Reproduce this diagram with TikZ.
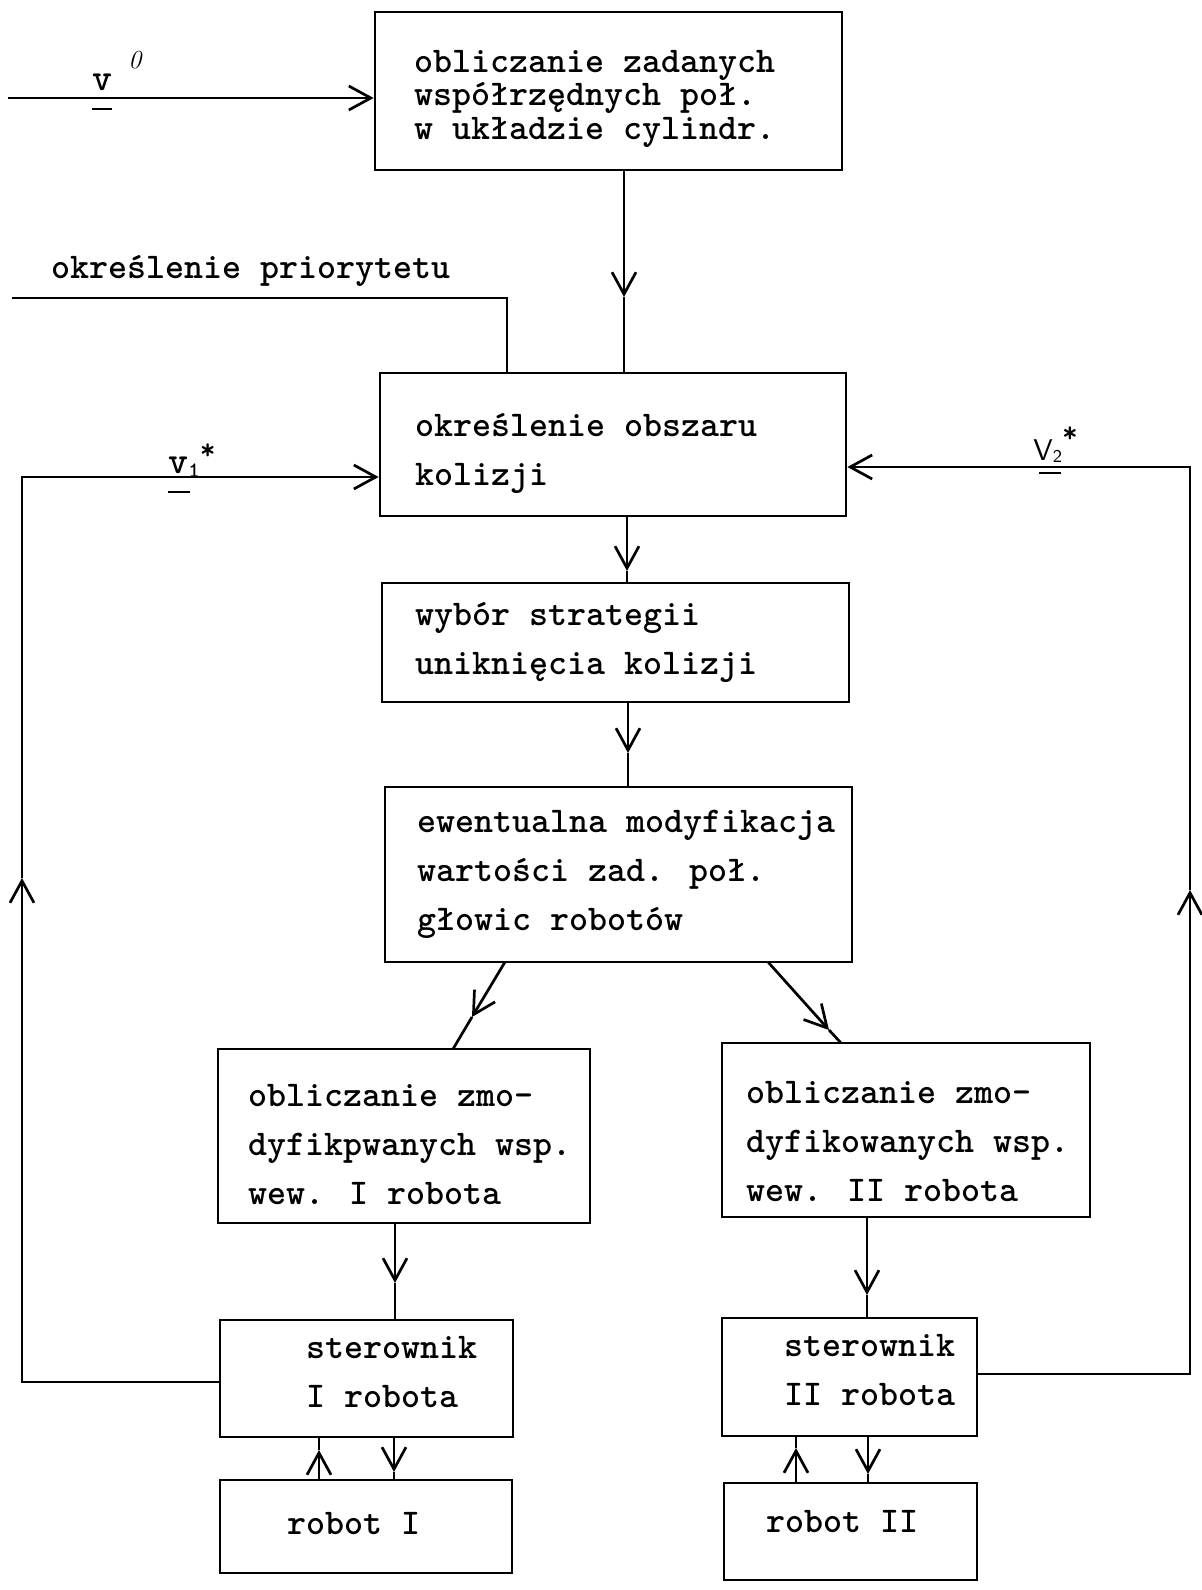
\documentclass[tikz,border=0pt]{standalone}
\usepackage{fontspec}
\usetikzlibrary{arrows.meta,fit}
\newcommand{\tw}{\ttfamily\bfseries}
\tikzset{
  ln/.style={line width=1.35pt},
  box/.style={draw, ln, inner sep=0pt},
  txt/.style={font=\tw\fontsize{18.1}{24.5}\selectfont, anchor=base west, inner sep=0pt},
  arr/.style={ln, -{Straight Barb[length=11pt,width=12pt]}},
  lab/.style={inner sep=0pt, anchor=base west},
}
\newcommand{\tl}[1]{\vtop{\lineskiplimit=-\maxdimen\lineskip=0pt\let\\=\cr\halign{##\hfil\cr#1\crcr}}}
\begin{document}
\begin{tikzpicture}[x=0.5pt,y=-0.5pt]
\useasboundingbox (0,0) rectangle (1201,1590);
% boxes
\node[box, fit={(375,12)(842,170)}] (b1) {};
\node[box, fit={(380,373)(846,516)}] (b2) {};
\node[box, fit={(382,583)(849,702)}] (b3) {};
\node[box, fit={(385,787)(852,962)}] (b4) {};
\node[box, fit={(218,1049)(590,1223)}] (b5) {};
\node[box, fit={(722,1043)(1090,1217)}] (b6) {};
\node[box, fit={(220,1320)(513,1437)}] (b7) {};
\node[box, fit={(220,1480)(512,1573)}] (b8) {};
\node[box, fit={(722,1318)(977,1436)}] (b9) {};
\node[box, fit={(724,1483)(977,1580)}] (b10) {};
% texts
\node[txt] (x1) at (414,72) {\fontsize{18.1}{16.9}\selectfont\tl{obliczanie zadanych\\współrzędnych poł.\\w układzie cylindr.}};
\node[txt] (x2) at (415,436) {\tl{określenie obszaru\\kolizji}};
\node[txt] (x3) at (415,625) {\tl{wybór strategii\\uniknięcia kolizji}};
\node[txt] (x4) at (417,832) {\tl{ewentualna modyfikacja\\wartości zad. poł.\\głowic robotów}};
\node[txt] (x5) at (248,1106) {\tl{obliczanie zmo-\\dyfikpwanych wsp.\\wew. I robota}};
\node[txt] (x6) at (746,1103) {\tl{obliczanie zmo-\\dyfikowanych wsp.\\wew. II robota}};
\node[txt] (x7) at (306,1358) {\tl{sterownik\\I robota}};
\node[txt] (x8) at (287,1534) {robot I};
\node[txt] (x9) at (784,1356) {\tl{sterownik\\II robota}};
\node[txt] (x10) at (766,1532) {robot II};
\node[txt] (xp) at (51,278) {określenie priorytetu};
% labels
\node[lab] (v0) at (92,90) {\tw\fontsize{19}{19}\selectfont\rlap{\raisebox{-10pt}{\rule{10pt}{1.2pt}}}v\hspace{8pt}\raisebox{11pt}{\normalfont\fontsize{13}{13}\selectfont\itshape 0}};
\node[lab] (v1) at (168,473) {\tw\fontsize{19}{19}\selectfont\rlap{\raisebox{-10pt}{\rule{11pt}{1.2pt}}}v\raisebox{-2pt}{\fontsize{11}{11}\selectfont 1}\raisebox{7pt}{\fontsize{15}{15}\selectfont *}};
\node[lab] (v2) at (1033,460) {\sffamily\fontsize{15}{15}\selectfont\rlap{\hspace{3pt}\raisebox{-7pt}{\rule{11pt}{1.2pt}}}V\raisebox{-1pt}{\fontsize{9}{9}\selectfont 2}\raisebox{9pt}{\tw\fontsize{15}{15}\selectfont *}};
% coordinates
\coordinate (v0s) at (8,98);
\coordinate (p0) at (12,298);
\coordinate (p1) at (507,298);
\coordinate (t12) at (624,297);
\coordinate (t23) at (627,571);
\coordinate (t34) at (628,753);
\coordinate (d1a) at (505,962);
\coordinate (td1) at (472,1017);
\coordinate (d1b) at (453,1049);
\coordinate (d2a) at (768,962);
\coordinate (td2) at (829,1030);
\coordinate (d2b) at (841,1043);
\coordinate (t57) at (395,1283);
\coordinate (t69) at (867,1295);
\coordinate (u78) at (319,1450);
\coordinate (d78) at (394,1472);
\coordinate (u910) at (796,1448);
\coordinate (d910) at (868,1474);
\coordinate (L1) at (22,1382);
\coordinate (tL) at (22,878);
\coordinate (L2) at (22,477);
\coordinate (R1) at (1190,1374);
\coordinate (tR) at (1190,890);
\coordinate (R2) at (1190,467);
% connectors
\draw[arr] (v0s) -- (v0s -| b1.west);
\draw[ln] (p0) -- (p1) -- (p1 |- b2.north);
\draw[arr] (t12 |- b1.south) -- (t12);
\draw[ln] (t12) -- (t12 |- b2.north);
\draw[arr] (t23 |- b2.south) -- (t23);
\draw[ln] (t23) -- (t23 |- b3.north);
\draw[arr] (t34 |- b3.south) -- (t34);
\draw[ln] (t34) -- (t34 |- b4.north);
\draw[arr] (d1a) -- (td1);
\draw[ln] (td1) -- (d1b);
\draw[arr] (d2a) -- (td2);
\draw[ln] (td2) -- (d2b);
\draw[arr] (t57 |- b5.south) -- (t57);
\draw[ln] (t57) -- (t57 |- b7.north);
\draw[arr] (t69 |- b6.south) -- (t69);
\draw[ln] (t69) -- (t69 |- b9.north);
\draw[arr] (u78 |- b8.north) -- (u78);
\draw[ln] (u78) -- (u78 |- b7.south);
\draw[arr] (d78 |- b7.south) -- (d78);
\draw[ln] (d78) -- (d78 |- b8.north);
\draw[arr] (u910 |- b10.north) -- (u910);
\draw[ln] (u910) -- (u910 |- b9.south);
\draw[arr] (d910 |- b9.south) -- (d910);
\draw[ln] (d910) -- (d910 |- b10.north);
\draw[arr] (L1 -| b7.west) -- (L1) -- (tL);
\draw[arr] (tL) -- (L2) -- (L2 -| b2.west);
\draw[arr] (R1 -| b9.east) -- (R1) -- (tR);
\draw[arr] (tR) -- (R2) -- (R2 -| b2.east);
\end{tikzpicture}
\end{document}
